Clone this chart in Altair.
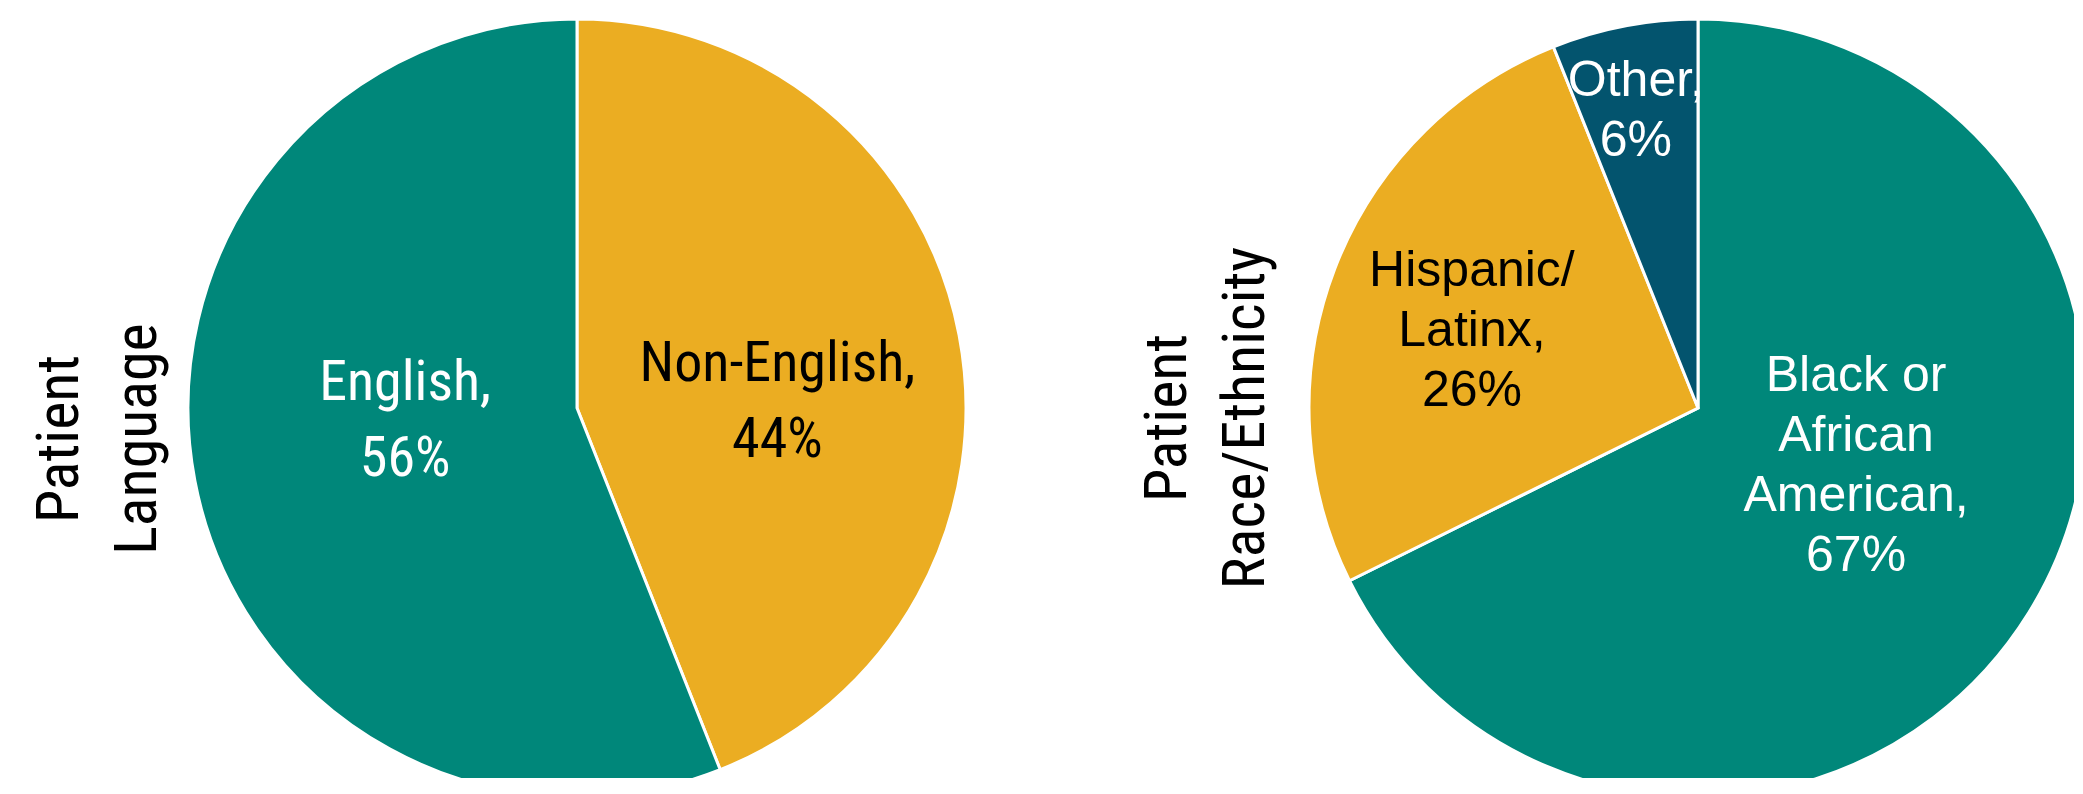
import altair as alt
import pandas as pd

# ---- data ----
lang_cats = ["Non-English", "English"]
lang_vals = [44, 56]
lang_labels = ["Non-English,\n44%", "English,\n56%"]
lang_colors = ["#EBAD22", "#00877A"]
lang_title = ["Patient", "Language"]

race_cats = ["Black or African American", "Hispanic/Latinx", "Other"]
race_vals = [67, 26, 6]
race_labels = ["Black or\nAfrican\nAmerican,\n67%", "Hispanic/\nLatinx,\n26%", "Other,\n6%"]
race_colors = ["#00877A", "#EBAD22", "#03546E"]
race_title = ["Patient", "Race/Ethnicity"]

NARROW = "Liberation Sans Narrow, Arial Narrow, Roboto Condensed, Noto Sans Condensed, Liberation Sans, sans-serif"
ARIAL = "Liberation Sans, Arial, sans-serif"
R = 389          # pie radius
CX, CY = 389, 400  # pie centre inside its panel (panels are clipped like the slide)
VIEW_H = 770


def frame(cats, vals, labels):
    return pd.DataFrame({"cat": cats, "value": vals, "label": labels, "idx": list(range(len(cats)))})


def pie(df, cats, colors, title, view_w, t_offset, t_dx, label_specs, font, fsize, lh):
    base = alt.Chart(df).encode(
        theta=alt.Theta("value:Q", stack=True),
        order=alt.Order("idx:Q", sort="ascending"),
    )
    arc = base.mark_arc(outerRadius=R, x=CX, y=CY, stroke="white", strokeWidth=3, clip=True).encode(
        color=alt.Color("cat:N", scale=alt.Scale(domain=cats, range=colors), legend=None)
    )
    layers = [arc]
    for cat, rad, dy, col in label_specs:
        layers.append(
            base.transform_calculate(show=f"datum.cat === '{cat}' ? datum.label : ''")
            .mark_text(x=CX, y=CY, radius=rad, dy=dy, align="center", baseline="alphabetic",
                       lineBreak="\n", font=font, fontSize=fsize, lineHeight=lh, color=col)
            .encode(text="show:N")
        )
    return alt.layer(*layers).properties(
        width=view_w, height=VIEW_H,
        title=alt.TitleParams(text=title, orient="left", anchor="middle", font=NARROW,
                              fontSize=60, fontWeight="normal", lineHeight=78,
                              offset=t_offset, dx=t_dx, color="black"),
    )


left = pie(frame(lang_cats, lang_vals, lang_labels), lang_cats, lang_colors, lang_title, 778, 19, -46,
           [("Non-English", 204, 11, "black"), ("English", 175, -41, "white")],
           NARROW, 56, 76)
right = pie(frame(race_cats, race_vals, race_labels), race_cats, race_colors, race_title, 765, 32, -25,
            [("Black or African American", 186, -115, "white"),
             ("Hispanic/Latinx", 242, -36, "black"),
             ("Other", 328, 10, "white")],
            ARIAL, 50, 60)

chart = alt.hconcat(left, right, spacing=172).resolve_scale(
    color="independent", theta="independent"
).properties(
    padding={"left": 22, "top": 0, "right": 0, "bottom": 0}
).configure_view(strokeWidth=0).configure(background="white")

chart.save("out.html", embed_options={"renderer": "svg", "actions": False})
